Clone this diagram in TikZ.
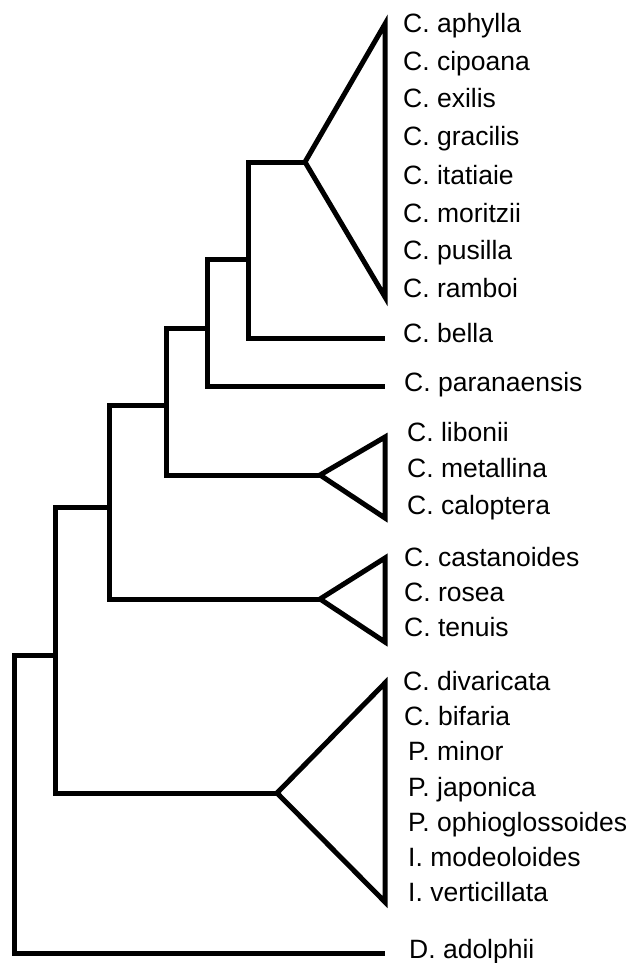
\documentclass[tikz,border=0pt]{standalone}
\usepackage{fontspec}
\setmainfont{Liberation Sans}

\begin{document}
\begin{tikzpicture}[x=1pt, y=-1pt,
  taxon/.style={anchor=base west, inner sep=0pt, font=\fontsize{26.5}{30}\selectfont},
  branch/.style={line width=5pt, line join=miter, black}
]
\useasboundingbox (0,0) rectangle (634,963);
% inner nodes of the tree
\coordinate (n0) at (14,800);
\coordinate (n1) at (55,655);
\coordinate (n2) at (109,507);
\coordinate (n3) at (166,405);
\coordinate (n4) at (207,328);
\coordinate (n5) at (248,259);
% collapsed clades
\coordinate (apexA) at (305,162);
\coordinate (topA) at (385,24);
\coordinate (botA) at (385,297);
\coordinate (apexB) at (320,475);
\coordinate (topB) at (385,437);
\coordinate (botB) at (385,518);
\coordinate (apexC) at (320,599);
\coordinate (topC) at (385,558);
\coordinate (botC) at (385,642);
\coordinate (apexD) at (277,793);
\coordinate (topD) at (385,683);
\coordinate (botD) at (385,902);
% single tips
\coordinate (tip1) at (385,338);
\coordinate (tip2) at (385,386);
\coordinate (tip3) at (385,953);

\node[taxon] (aphylla) at (403,33) {C. aphylla};
\node[taxon] (cipoana) at (403,71) {C. cipoana};
\node[taxon] (exilis) at (403,108) {C. exilis};
\node[taxon] (gracilis) at (403,146) {C. gracilis};
\node[taxon] (itatiaie) at (403,184) {C. itatiaie};
\node[taxon] (moritzii) at (403,222) {C. moritzii};
\node[taxon] (pusilla) at (403,259) {C. pusilla};
\node[taxon] (ramboi) at (403,297) {C. ramboi};
\node[taxon] (bella) at (403,342) {C. bella};
\node[taxon] (paranaensis) at (404,391) {C. paranaensis};
\node[taxon] (libonii) at (407,441) {C. libonii};
\node[taxon] (metallina) at (407,477) {C. metallina};
\node[taxon] (caloptera) at (407,514) {C. caloptera};
\node[taxon] (castanoides) at (404,566) {C. castanoides};
\node[taxon] (rosea) at (404,601) {C. rosea};
\node[taxon] (tenuis) at (404,636) {C. tenuis};
\node[taxon] (divaricata) at (403,690) {C. divaricata};
\node[taxon] (bifaria) at (404,725) {C. bifaria};
\node[taxon] (minor) at (408,760) {P. minor};
\node[taxon] (japonica) at (408,796) {P. japonica};
\node[taxon] (ophioglossoides) at (408,831) {P. ophioglossoides};
\node[taxon] (modeoloides) at (408,866) {I. modeoloides};
\node[taxon] (verticillata) at (408,901) {I. verticillata};
\node[taxon] (adolphii) at (409,958) {D. adolphii};

\draw[branch] (n0) |- (n1);
\draw[branch] (n0) |- (tip3);
\draw[branch] (n1) |- (n2);
\draw[branch] (n1) |- (apexD);
\draw[branch] (n2) |- (n3);
\draw[branch] (n2) |- (apexC);
\draw[branch] (n3) |- (n4);
\draw[branch] (n3) |- (apexB);
\draw[branch] (n4) |- (n5);
\draw[branch] (n4) |- (tip2);
\draw[branch] (n5) |- (apexA);
\draw[branch] (n5) |- (tip1);
\draw[branch] (apexA) -- (topA) -- (botA) -- cycle;
\draw[branch] (apexB) -- (topB) -- (botB) -- cycle;
\draw[branch] (apexC) -- (topC) -- (botC) -- cycle;
\draw[branch] (apexD) -- (topD) -- (botD) -- cycle;
\end{tikzpicture}
\end{document}
